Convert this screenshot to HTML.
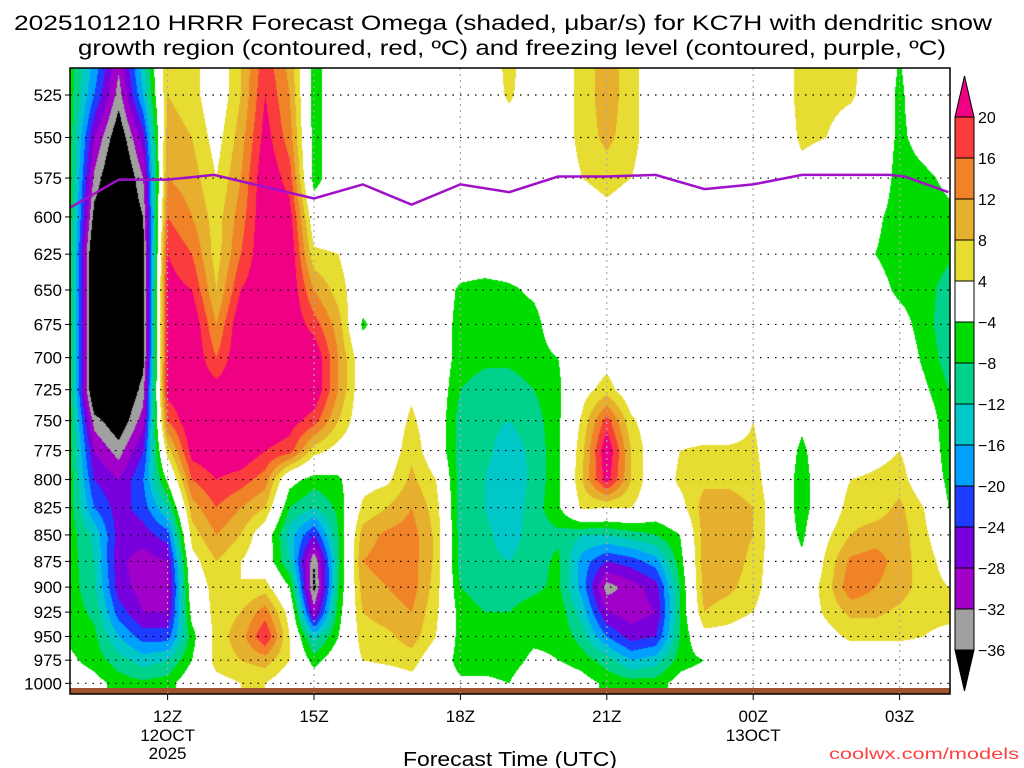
<!DOCTYPE html>
<html><head><meta charset="utf-8">
<style>
html,body{margin:0;padding:0;background:#fff;}
#wrap{position:relative;width:1024px;height:768px;overflow:hidden;background:#fff;}
#field{position:absolute;left:70px;top:68px;}
#ov{position:absolute;left:0;top:0;}
text{font-family:"Liberation Sans",sans-serif;}
</style></head>
<body>
<div id="wrap">
<canvas id="field" width="880" height="626"></canvas>
<svg id="ov" width="1024" height="768"></svg>
</div>
<script>
// ---- data ----
const levels = [500,525,550,575,600,625,650,675,700,725,750,775,800,825,850,875,900,925,950,975,1000];
const times = [10,10.5,11,11.5,12,12.5,13,13.5,14,14.5,15,15.5,16,16.5,17,17.5,18,18.5,19,19.5,20,20.5,21,21.5,22,22.5,23,23.5,24,24.5,25,25.5,26,26.5,27,27.5,28];
const c10   = [-6,-6,-6,-6,-6,-6,-6,-6,-6,-6,-6,-6,-6,-6,-6,-6,-6,-6,-5,-3,0];
const c10h  = [-16,-20,-28,-33,-38,-44,-44,-44,-44,-44,-34,-28,-24,-20,-13,-12,-11,-9,-7,-6,-2];
const c11   = [-30,-34,-40,-44,-44,-44,-44,-44,-44,-44,-40,-34,-28,-26,-26,-27,-26,-22,-16,-10,-6];
const c11h  = [-12,-16,-26,-32,-36,-38,-38,-38,-38,-34,-30,-24,-20,-22,-26,-30,-30,-28,-22,-14,-7];
const c12   = [8,8,10,12,16,20,22,22,22,22,16,6,-3,-12,-22,-28,-30,-28,-22,-12,-6];
const c12h  = [6,6,8,10,12,16,20,24,24,24,24,22,16,10,6,2,0,-2,-6,-4,0];
const c13   = [0,0,2,4,6,6,8,12,16,22,24,24,20,16,12,8,6,6,6,6,2];
const c13h  = [8,8,10,12,14,16,20,24,24,24,24,24,18,12,8,4,4,8,10,8,4];
const c14   = [18,20,22,24,24,24,24,24,24,24,24,20,14,8,0,0,6,14,20,10,4];
const c14h  = [10,12,14,18,22,24,24,24,24,24,22,18,-2,-8,-14,-12,-4,2,4,4,0];
const c15   = [-6,-6,-6,-6,0,5,12,18,24,24,18,6,-6,-12,-24,-36,-38,-30,-14,-6,0];
const c15h  = [0,0,0,0,0,4,6,10,12,12,8,2,-5,-7,-8,-9,-8,-6,-4,0,0];
const c16   = [0,0,0,0,0,0,0,-5,0,0,0,0,2,5,10,12,10,8,6,4,0];
const c16h  = [0,0,0,0,0,0,0,0,0,0,0,0,3,8,13,14,12,10,7,5,0];
const c17   = [0,0,0,0,0,0,0,0,0,3,5,7,9,12,14,14,14,12,10,6,2];
const c17h  = [0,0,0,0,0,0,0,0,0,0,0,0,4,6,7,7,6,5,4,0,0];
const c18   = [0,0,0,0,0,0,-5,-6,-6,-8,-10,-10,-10,-10,-10,-10,-8,-6,-6,-6,-3];
const c18h  = [0,0,0,0,0,0,-6,-6,-7,-10,-11,-11,-12,-12,-11,-11,-10,-8,-6,-6,-3];
const c19   = [6,5,0,0,0,0,-5,-6,-7,-10,-12,-14,-15,-15,-14,-12,-10,-8,-6,-6,-4];
const c19h  = [0,0,0,0,0,0,-3,-6,-6,-8,-10,-11,-11,-10,-10,-10,-9,-6,-5,-3,0];
const c20   = [0,0,0,0,0,0,0,0,-4,-5,-5,-5,-5,-5,-9,-7,-7,-5,-5,-4,0];
const c20h  = [6,6,6,4,0,0,0,0,0,2,5,7,8,5,-12,-18,-18,-14,-10,-6,-2];
const c21   = [10,10,9,6,2,0,-2,-2,2,6,18,24,22,4,-12,-24,-34,-28,-20,-10,-5];
const c21h  = [6,6,6,4,0,0,0,0,0,0,5,8,8,4,-10,-22,-30,-30,-26,-16,-6];
const c22   = [0,0,0,0,0,0,0,0,0,0,0,0,0,0,-8,-18,-26,-28,-24,-14,-6];
const c22h  = [0,0,0,0,0,0,0,0,0,0,0,4,5,2,-4,-6,-8,-8,-8,-6,-2];
const c23   = [0,0,0,0,0,0,0,0,0,0,0,5,7,10,10,10,10,8,2,-4,-1];
const c23h  = [0,0,0,0,0,0,0,0,0,0,0,5,7,10,10,10,9,6,2,0,0];
const c24   = [0,0,0,0,0,0,0,0,0,0,4,5,6,8,8,7,6,4,0,0,0];
const c24h  = [0,0,0,0,0,0,0,0,0,0,0,0,0,0,0,0,0,0,0,0,0];
const c25   = [6,6,5,2,0,0,0,0,0,0,-3,-5,-6,-6,-5,-3,0,0,0,0,0];
const c25h  = [6,6,4,0,0,0,0,0,0,0,0,0,0,0,3,5,6,5,2,0,0];
const c26   = [6,5,0,0,0,0,0,0,0,0,0,0,4,6,8,13,15,9,5,0,0];
const c26h  = [0,0,0,0,-3,-4,-2,0,0,0,0,2,5,6,10,14,12,9,5,0,0];
const c27   = [-4,-5,-5,-6,-6,-6,-5,-2,0,0,0,4,6,9,10,10,10,7,5,0,0];
const c27h  = [0,0,-2,-5,-6,-6,-6,-6,-5,-3,0,0,0,4,5,6,6,5,4,0,0];
const c28   = [0,0,0,-3,-5,-7,-10,-11,-10,-8,-7,-6,-5,-4,0,2,4,5,3,0,0];
const omega = [c10,c10h,c11,c11h,c12,c12h,c13,c13h,c14,c14h,c15,c15h,c16,c16h,c17,c17h,c18,c18h,c19,c19h,c20,c20h,c21,c21h,c22,c22h,c23,c23h,c24,c24h,c25,c25h,c26,c26h,c27,c27h,c28];
const contourLevels = [-36,-32,-28,-24,-20,-16,-12,-8,-4,4,8,12,16,20];
const cbLabels = ["20","16","12","8","4","\u22124","\u22128","\u221212","\u221216","\u221220","\u221224","\u221228","\u221232","\u221236"];
const fzTimes = [10,11,12,12.95,15,16,17,18,19,20,21,22,23,24,25,26.8,27.1,28];
const fzPres  = [594,576,576,573,588,579,592,579,584,574,574,573,582,579,573,573,574,584];
const yTicks = [525,550,575,600,625,650,675,700,725,750,775,800,825,850,875,900,925,950,975,1000];
const xTickHours = [12,15,18,21,24,27];
const xTickLabels = ["12Z","15Z","18Z","21Z","00Z","03Z"];

// ---- scales ----
const X0=70, X1=950, Y0=68, Y1=694;
function xs(t){return 70 + (t-10)*48.8;}
function ys(p){return 95 + 913*Math.log(p/525);}
function pOfY(y){return 525*Math.exp((y-95)/913);}
const fillCols = ["#a0a0a0","#a000c8","#7800dc","#1e3cff","#00a0ff","#00c8c8","#00d28c","#00dc00","#ffffff","#e6dc32","#e6af2d","#f08228","#fa3c3c"];
function colorOf(v){
  if(v< -36) return [0,0,0];
  if(v>=20) return [240,0,130];
  for(let i=0;i<contourLevels.length-1;i++){
    if(v>=contourLevels[i] && v<contourLevels[i+1]){
      const h=fillCols[i]; return [parseInt(h.substr(1,2),16),parseInt(h.substr(3,2),16),parseInt(h.substr(5,2),16)];
    }
  }
  return [255,255,255];
}
// ---- field ----
const cv=document.getElementById('field');
const ctx=cv.getContext('2d');
const W=cv.width,H=cv.height;
const img=ctx.createImageData(W,H);
const dt=times[1]-times[0];
for(let py=0;py<H;py++){
  const p=pOfY(py+Y0+0.5);
  let r=(p-levels[0])/(levels[1]-levels[0]);
  r=Math.max(0,Math.min(levels.length-1.0001,r));
  const r0=Math.floor(r), fr=r-r0;
  for(let px=0;px<W;px++){
    const t=10+(px+0.5)/48.8;
    let c=(t-times[0])/dt;
    c=Math.max(0,Math.min(times.length-1.0001,c));
    const c0=Math.floor(c), fc=c-c0;
    const v=(omega[c0][r0]*(1-fr)+omega[c0][r0+1]*fr)*(1-fc)+(omega[c0+1][r0]*(1-fr)+omega[c0+1][r0+1]*fr)*fc;
    const col=colorOf(v);
    const k=(py*W+px)*4;
    img.data[k]=col[0];img.data[k+1]=col[1];img.data[k+2]=col[2];img.data[k+3]=255;
  }
}
ctx.putImageData(img,0,0);

// ---- overlay ----
const NS="http://www.w3.org/2000/svg";
const svg=document.getElementById('ov');
function mk(tag,attrs,parent){const e=document.createElementNS(NS,tag);for(const k in attrs)e.setAttribute(k,attrs[k]);(parent||svg).appendChild(e);return e;}

const ground=mk('rect',{x:X0,y:688,width:X1-X0,height:Y1-688,fill:'#a0522d'});



yTicks.forEach(p=>{
  const g=mk('line',{x1:X0,x2:X1,y1:ys(p),y2:ys(p),stroke:'#000','stroke-width':1.2,'stroke-dasharray':'1.5 6'});
  
  
  const tk=mk('line',{x1:X0-5,x2:X0,y1:ys(p),y2:ys(p),stroke:'#000','stroke-width':1});
  
  
  const tx=mk('text',{x:X0-8,y:ys(p)+6,'text-anchor':'end','font-size':17,fill:'#000'});
  tx.textContent=p;
  
  
});
xTickHours.forEach((h,i)=>{
  const g=mk('line',{x1:xs(h),x2:xs(h),y1:Y0,y2:Y1,stroke:'#aaa','stroke-width':1.2,'stroke-dasharray':'2 4'});
  
  
  const tk=mk('line',{x1:xs(h),x2:xs(h),y1:Y1,y2:Y1+6,stroke:'#000','stroke-width':1});
  
  
  const tx=mk('text',{x:xs(h),y:722,'text-anchor':'middle','font-size':17,fill:'#000'});
  tx.textContent=xTickLabels[i];
  
  
});

let d='';
fzTimes.forEach((t,i)=>{d+=(i?'L':'M')+xs(t).toFixed(1)+','+ys(fzPres[i]).toFixed(1);});
const fz=mk('path',{d:d,fill:'none',stroke:'#a010c8','stroke-width':2.5});



const fr=mk('rect',{x:X0,y:Y0,width:X1-X0,height:Y1-Y0,fill:'none',stroke:'#000','stroke-width':1.5});



const cbX=955, cbW=19, cbTop=117, cbStep=41;
const cbColsTopDown=["#fa3c3c","#f08228","#e6af2d","#e6dc32","#ffffff","#00dc00","#00d28c","#00c8c8","#00a0ff","#1e3cff","#7800dc","#a000c8","#a0a0a0"];
const up=mk('polygon',{points:`${cbX},${cbTop} ${cbX+cbW},${cbTop} ${cbX+cbW/2},76`,fill:'#f00082',stroke:'#000','stroke-width':1});


cbColsTopDown.forEach((c,i)=>{
  const r=mk('rect',{x:cbX,y:cbTop+i*cbStep,width:cbW,height:cbStep,fill:c,stroke:'#000','stroke-width':1});
  
  
});
const dn=mk('polygon',{points:`${cbX},${cbTop+13*cbStep} ${cbX+cbW},${cbTop+13*cbStep} ${cbX+cbW/2},691`,fill:'#000',stroke:'#000','stroke-width':1});


cbLabels.forEach((l,i)=>{
  const t=mk('text',{x:978,y:cbTop+i*cbStep+6,'font-size':16,fill:'#000'});
  t.textContent=l;
  
  
});

function txt(s,x,y,size,name,opts){
  const t=mk('text',Object.assign({x:x,y:y,'font-size':size,fill:'#000'},opts||{}));
  t.textContent=s;
  
  
  return t;
}
txt('2025101210 HRRR Forecast Omega (shaded, \u03bcbar/s) for KC7H with dendritic snow',14,30,21,'title-line-1',{textLength:978,lengthAdjust:'spacingAndGlyphs'});
txt('growth region (contoured, red, \u00baC) and freezing level (contoured, purple, \u00baC)',78,55,21,'title-line-2',{textLength:868,lengthAdjust:'spacingAndGlyphs'});
txt('12OCT',xs(12),741,17,'date-label-12oct',{'text-anchor':'middle'});
txt('2025',xs(12),759,17,'year-label',{'text-anchor':'middle'});
txt('13OCT',xs(24),741,17,'date-label-13oct',{'text-anchor':'middle'});
txt('Forecast Time (UTC)',403,766,20,'x-axis-title',{textLength:214,lengthAdjust:'spacingAndGlyphs'});
txt('coolwx.com/models',829,759,16,'credit-text',{fill:'#ff4040',textLength:190,lengthAdjust:'spacingAndGlyphs'});
</script>
</body></html>
